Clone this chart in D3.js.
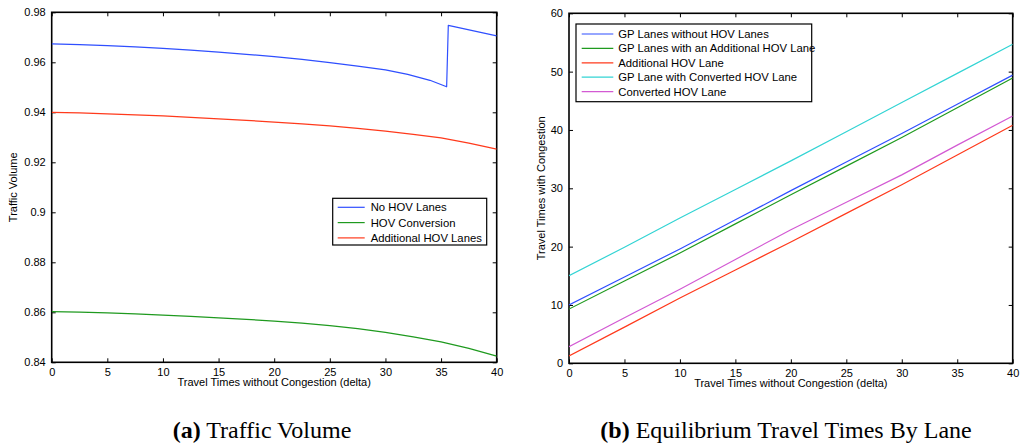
<!DOCTYPE html>
<html><head><meta charset="utf-8">
<script src="https://cdn.jsdelivr.net/npm/d3@7"></script>
<style>
body{margin:0;background:#fff;}
svg{display:block;}
</style></head>
<body>
<svg id="c" width="1021" height="446" font-family="Liberation Sans, Arial, Helvetica, sans-serif"></svg>
<script>
// ---- Data: panel (a) Traffic Volume ----
const volX = [0, 2.5, 5, 7.5, 10, 12.5, 15, 17.5, 20, 22.5, 25, 27.5, 30, 32, 34, 35.5, 35.65, 40];
const volNoHOV = [0.9674, 0.9671, 0.9667, 0.9662, 0.9656, 0.9649, 0.9641, 0.9632, 0.9623, 0.9612, 0.9599, 0.9585, 0.9570, 0.9552, 0.9528, 0.9502, 0.9748, 0.9706];
const volX2 = [0, 2.5, 5, 7.5, 10, 12.5, 15, 17.5, 20, 22.5, 25, 27.5, 30, 32.5, 35, 37.5, 40];
const volHOVConv = [0.8603, 0.8601, 0.8598, 0.8594, 0.8589, 0.8584, 0.8578, 0.8572, 0.8565, 0.8557, 0.8547, 0.8535, 0.8520, 0.8502, 0.8482, 0.8456, 0.8425];
const volAddHOV = [0.9400, 0.9398, 0.9394, 0.9390, 0.9386, 0.9380, 0.9374, 0.9368, 0.9361, 0.9354, 0.9346, 0.9336, 0.9325, 0.9312, 0.9298, 0.9277, 0.9253];
const volYTicks = [0.84, 0.86, 0.88, 0.9, 0.92, 0.94, 0.96, 0.98];
const volSeries = ["No HOV Lanes", "HOV Conversion", "Additional HOV Lanes"];

// ---- Data: panel (b) Equilibrium Travel Times ----
const ttX = [0, 5, 10, 15, 20, 25, 30, 35, 40];
const ttGPNoHOV = [10.0, 14.8, 19.6, 24.6, 29.6, 34.5, 39.4, 44.4, 49.4];
const ttGPAddHOV = [9.3, 14.1, 18.9, 23.9, 28.9, 33.8, 38.7, 43.8, 48.9];
const ttAddHOV = [1.25, 6.2, 11.2, 16.0, 20.8, 25.7, 30.6, 35.7, 40.8];
const ttGPConv = [15.0, 19.9, 24.9, 29.8, 34.7, 39.7, 44.7, 49.7, 54.7];
const ttConvHOV = [2.85, 7.8, 12.7, 17.8, 22.9, 27.6, 32.3, 37.4, 42.4];
const ttYTicks = [0, 10, 20, 30, 40, 50, 60];
const ttSeries = ["GP Lanes without HOV Lanes", "GP Lanes with an Additional HOV Lane", "Additional HOV Lane", "GP Lane with Converted HOV Lane", "Converted HOV Lane"];

const xTicks = [0, 5, 10, 15, 20, 25, 30, 35, 40];
const xLabel = "Travel Times without Congestion (delta)";

const C = {blue:"#2f4fff", green:"#1f9a1f", red:"#ff3a1c", cyan:"#33d4d4", magenta:"#d35ad3"};

const svg = d3.select("#c");

function panel(o){
  const g = svg.append("g");
  const x = d3.scaleLinear().domain([0,40]).range([o.x0,o.x1]);
  const y = d3.scaleLinear().domain(o.yDomain).range([o.y1,o.y0]);
  const tl = 4;
  const ax = g.append("g").attr("transform",`translate(0,${o.y1})`)
    .call(d3.axisBottom(x).tickValues(xTicks).tickSize(-tl).tickPadding(6).tickFormat(d3.format("d")));
  const axT = g.append("g").attr("transform",`translate(0,${o.y0})`)
    .call(d3.axisTop(x).tickValues(xTicks).tickSize(-tl).tickFormat(""));
  const ay = g.append("g").attr("transform",`translate(${o.x0},0)`)
    .call(d3.axisLeft(y).tickValues(o.yTicks).tickSize(-tl).tickPadding(6).tickFormat(o.fmt));
  const ayR = g.append("g").attr("transform",`translate(${o.x1},0)`)
    .call(d3.axisRight(y).tickValues(o.yTicks).tickSize(-tl).tickFormat(""));
  [ax,axT,ay,ayR].forEach(a=>{
    a.attr("font-family",null).attr("font-size",null);
    a.selectAll(".domain").remove();
    a.selectAll(".tick line").attr("stroke","#000").attr("stroke-width",1);
    a.selectAll("text").attr("font-size",11).attr("fill","#000");
  });
  g.append("rect").attr("x",o.x0).attr("y",o.y0).attr("width",o.x1-o.x0).attr("height",o.y1-o.y0)
    .attr("fill","none").attr("stroke","#000").attr("stroke-width",1.6);
  const clipId = "clip"+o.id;
  svg.append("clipPath").attr("id",clipId).append("rect")
    .attr("x",o.x0).attr("y",o.y0).attr("width",o.x1-o.x0).attr("height",o.y1-o.y0);
  const line = d3.line().x(d=>x(d[0])).y(d=>y(d[1]));
  o.series.forEach(s=>{
    g.append("path").datum(s.xs.map((v,i)=>[v,s.ys[i]]))
      .attr("d",line).attr("fill","none").attr("stroke",s.color).attr("stroke-width",1.2)
      .attr("stroke-linejoin","round")
      .attr("clip-path",`url(#${clipId})`);
  });
  g.append("text").attr("x",(o.x0+o.x1)/2).attr("y",o.y1+24).attr("text-anchor","middle")
    .attr("font-size",11).text(xLabel);
  g.append("text").attr("transform",`translate(${o.yLabX},${(o.y0+o.y1)/2}) rotate(-90)`)
    .attr("text-anchor","middle").attr("font-size",11).text(o.yLabel);
  const L = o.legend;
  const lg = g.append("g");
  lg.append("rect").attr("x",L.x).attr("y",L.y).attr("width",L.w).attr("height",L.h)
    .attr("fill","#fff").attr("stroke","#000").attr("stroke-width",1.2);
  o.series.forEach((s,i)=>{
    const yy = L.y + L.first + i*L.step;
    lg.append("line").attr("x1",L.x+L.l0).attr("x2",L.x+L.l1).attr("y1",yy).attr("y2",yy)
      .attr("stroke",s.color).attr("stroke-width",1.2);
    lg.append("text").attr("x",L.x+L.tx).attr("y",yy).attr("dy","0.35em").attr("font-size",11.3).text(s.name);
  });
  const cap = svg.append("text").attr("x",o.capX).attr("y",438).attr("text-anchor","middle")
    .style("font-family","'Liberation Serif', 'DejaVu Serif', serif").attr("font-size",24);
  cap.append("tspan").attr("font-weight","bold").text(o.capA);
  cap.append("tspan").text(" " + o.capB);
}

panel({
  id:"a", x0:51.7, x1:496.7, y0:12.3, y1:362.3,
  yDomain:[0.84,0.98], yTicks:volYTicks, fmt:d=>String(d),
  yLabel:"Traffic Volume", yLabX:17,
  series:[
    {name:volSeries[0], xs:volX, ys:volNoHOV, color:C.blue},
    {name:volSeries[1], xs:volX2, ys:volHOVConv, color:C.green},
    {name:volSeries[2], xs:volX2, ys:volAddHOV, color:C.red}
  ],
  legend:{x:332.7, y:198.3, w:154, h:46.7, first:9, step:15.3, l0:5, l1:32, tx:38},
  capX:262, capA:"(a)", capB:"Traffic Volume"
});

panel({
  id:"b", x0:569, x1:1012.7, y0:13.3, y1:363.3,
  yDomain:[0,60], yTicks:ttYTicks, fmt:d3.format("d"),
  yLabel:"Travel Times with Congestion", yLabX:545,
  series:[
    {name:ttSeries[0], xs:ttX, ys:ttGPNoHOV, color:C.blue},
    {name:ttSeries[1], xs:ttX, ys:ttGPAddHOV, color:C.green},
    {name:ttSeries[2], xs:ttX, ys:ttAddHOV, color:C.red},
    {name:ttSeries[3], xs:ttX, ys:ttGPConv, color:C.cyan},
    {name:ttSeries[4], xs:ttX, ys:ttConvHOV, color:C.magenta}
  ],
  legend:{x:576, y:24, w:235.7, h:77.7, first:10, step:14.4, l0:5.7, l1:37.3, tx:42.3},
  capX:786, capA:"(b)", capB:"Equilibrium Travel Times By Lane"
});
</script>
</body></html>
